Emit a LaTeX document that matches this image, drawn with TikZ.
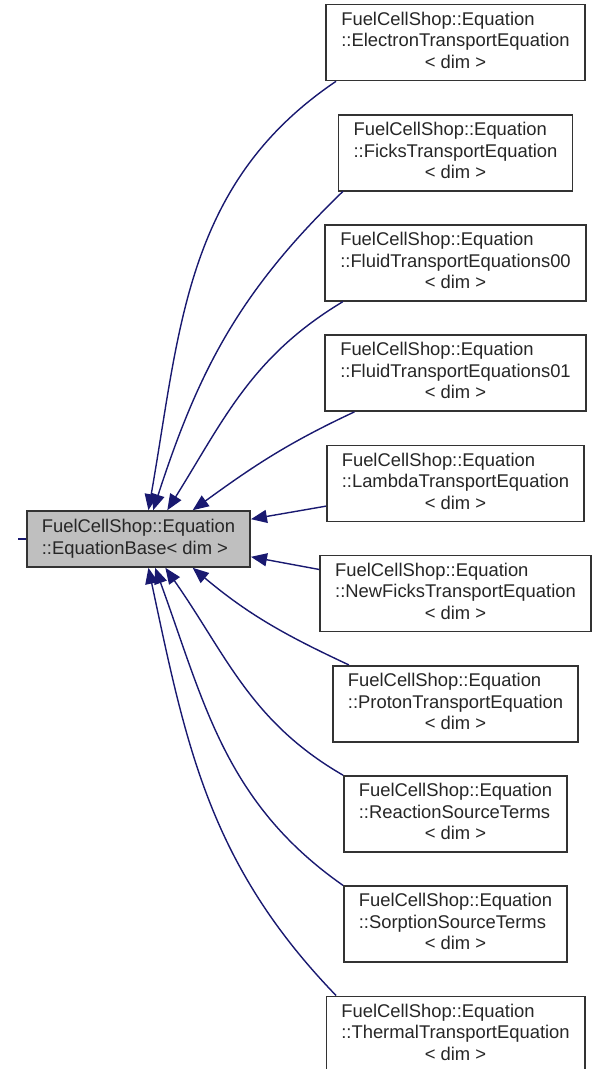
\documentclass[tikz,border=0pt]{standalone}
\usepackage{fontspec}
\setmainfont{Liberation Sans}
\usepackage{tikz}
\usetikzlibrary{arrows.meta}
\usetikzlibrary{positioning}
\definecolor{edgeblue}{HTML}{191970}
\definecolor{basegray}{HTML}{BFBFBF}
\tikzstyle{cls}=[draw=black!80,line width=1.6pt,fill=white,rectangle,minimum height=76pt,inner xsep=15pt,font=\fontsize{18.4}{21.5}\selectfont,text=black!85]
\tikzstyle{inh}=[edgeblue,line width=1.4pt,-{Triangle[length=16pt,width=13pt]}]
\newcommand{\clsname}[1]{\begin{tabular}{@{}l@{}}FuelCellShop::Equation\\::#1\\\multicolumn{1}{@{}c@{}}{< dim >}\end{tabular}}

\begin{document}
\begin{tikzpicture}[x=1pt,y=-1pt]
\useasboundingbox (0,0) rectangle (592,1069);
\node [cls,fill=basegray,minimum height=56pt] (base) at (138.5,539)
  {\begin{tabular}{@{}l@{}}FuelCellShop::Equation\\::EquationBase< dim >\end{tabular}};
\coordinate (stub) at (18,539);
\draw [edgeblue,line width=1.4pt] (stub) -- (base.west);
% derived classes
\foreach \nm/\txt [count=\i] in {elec/ElectronTransportEquation,ficks/FicksTransportEquation,
    fluid0/FluidTransportEquations00,fluid1/FluidTransportEquations01,lambda/LambdaTransportEquation,
    newficks/NewFicksTransportEquation,proton/ProtonTransportEquation,reaction/ReactionSourceTerms,
    sorption/SorptionSourceTerms,thermal/ThermalTransportEquation}
  \node [cls] (\nm) at (455.5,{42.5+110.2*(\i-1)}) {\clsname{\txt}};
\draw [inh] (elec.198) to[out=214,in=80] (base.71);
\draw [inh] (ficks.199) to[out=224,in=72] (base.63);
\draw [inh] (fluid0.199) to[out=211,in=58] (base.45);
\draw [inh] (fluid1.201) to[out=205,in=36] (base.28);
\draw [inh] (lambda.190) -- (base.10);
\draw [inh] (newficks.170) -- (base.-9);
\draw [inh] (proton.160) to[out=155,in=-40] (base.-28);
\draw [inh] (reaction.161) to[out=150,in=-55] (base.-47);
\draw [inh] (sorption.161) to[out=145,in=-70] (base.-60);
\draw [inh] (thermal.162) to[out=134,in=-78] (base.-71);
\end{tikzpicture}
\end{document}
